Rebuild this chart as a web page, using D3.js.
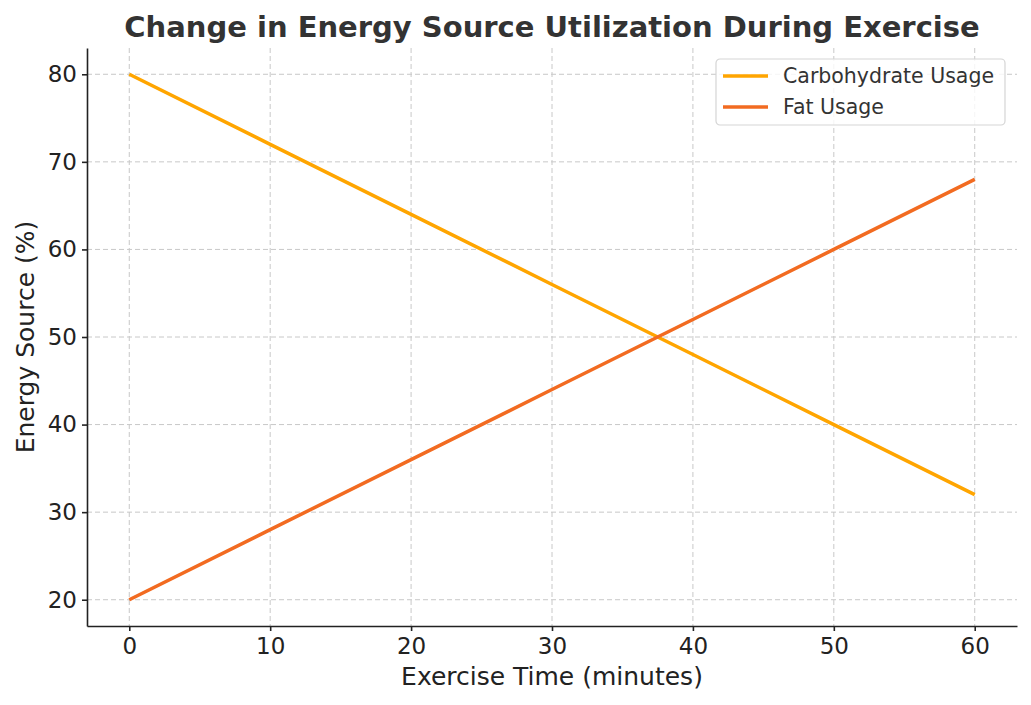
<!DOCTYPE html>
<html lang="en">
<head>
<meta charset="utf-8">
<title>Energy source</title>
<script src="https://cdn.jsdelivr.net/npm/d3@7"></script>
<style>
    body { margin: 0; background: #fff; }
    text { font-family: "DejaVu Sans", sans-serif; }
    .grid line { stroke: #c8c8c8; stroke-dasharray: 5,3; stroke-width: 1; }
    .axis text { font-size: 23px; fill: #222; font-family: "DejaVu Sans", sans-serif; }
    .axis path, .axis line { stroke: #222; stroke-width: 1.6; }
</style>
</head>
<body>
<div id="chart"></div>
<script>
    const minutes = [0, 10, 20, 30, 40, 50, 60];
    const carbUsage = [80, 72, 64, 56, 48, 40, 32];
    const fatUsage = [20, 28, 36, 44, 52, 60, 68];
    const seriesNames = ["Carbohydrate Usage", "Fat Usage"];
    const seriesColors = ["#FFA500", "#F26B21"];
    const xTicks = [0, 10, 20, 30, 40, 50, 60];
    const yTicks = [20, 30, 40, 50, 60, 70, 80];

    const w = 1031, h = 705;
    const m = {left: 87, right: 14, top: 48, bottom: 79};

    const svg = d3.select("#chart").append("svg").attr("width", w).attr("height", h);

    const x = d3.scaleLinear().domain([-3, 63]).range([m.left, w - m.right]);
    const y = d3.scaleLinear().domain([17, 83]).range([h - m.bottom, m.top]);

    // grid
    const grid = svg.append("g").attr("class", "grid");
    grid.selectAll(".gx").data(xTicks).enter().append("line")
        .attr("x1", d => x(d)).attr("x2", d => x(d))
        .attr("y1", m.top).attr("y2", h - m.bottom);
    grid.selectAll(".gy").data(yTicks).enter().append("line")
        .attr("y1", d => y(d)).attr("y2", d => y(d))
        .attr("x1", m.left).attr("x2", w - m.right);

    // axes
    svg.append("g").attr("class", "axis")
        .attr("transform", "translate(0," + (h - m.bottom) + ")")
        .call(d3.axisBottom(x).tickValues(xTicks).tickSize(5).tickPadding(5).tickSizeOuter(0))
        .call(g => g.selectAll("text").attr("dy", "0.8em"));
    svg.append("g").attr("class", "axis")
        .attr("transform", "translate(" + m.left + ",0)")
        .call(d3.axisLeft(y).tickValues(yTicks).tickSize(5).tickPadding(5).tickSizeOuter(0));

    // lines
    const line = d3.line().x(d => x(d[0])).y(d => y(d[1]));
    [carbUsage, fatUsage].forEach(function (vals, i) {
        svg.append("path")
            .datum(minutes.map((t, j) => [t, vals[j]]))
            .attr("fill", "none")
            .attr("stroke", seriesColors[i])
            .attr("stroke-width", 3.5)
            .attr("d", line);
    });

    // title and labels
    svg.append("text").attr("x", 552).attr("y", 37).attr("text-anchor", "middle")
        .style("font-size", "29px").style("font-weight", "bold").style("fill", "#333")
        .text("Change in Energy Source Utilization During Exercise");
    svg.append("text").attr("x", (m.left + w - m.right) / 2).attr("y", 685).attr("text-anchor", "middle")
        .style("font-size", "25px").style("fill", "#222")
        .text("Exercise Time (minutes)");
    svg.append("text").attr("transform", "translate(34," + ((m.top + h - m.bottom) / 2) + ") rotate(-90)")
        .attr("text-anchor", "middle")
        .style("font-size", "25px").style("fill", "#222")
        .text("Energy Source (%)");

    // legend
    const lg = svg.append("g").attr("transform", "translate(716,59)");
    lg.append("rect").attr("width", 289).attr("height", 66).attr("rx", 4)
        .attr("fill", "#fff").attr("fill-opacity", 0.8).attr("stroke", "#d5d5d5").attr("stroke-width", 1.2);
    seriesNames.forEach(function (n, i) {
        const yy = 17 + i * 31;
        lg.append("line").attr("x1", 7).attr("x2", 52).attr("y1", yy).attr("y2", yy)
            .attr("stroke", seriesColors[i]).attr("stroke-width", 3.5);
        lg.append("text").attr("x", 67).attr("y", yy + 7)
            .style("font-size", "20.5px").style("fill", "#333").text(n);
    });
</script>
</body>
</html>
